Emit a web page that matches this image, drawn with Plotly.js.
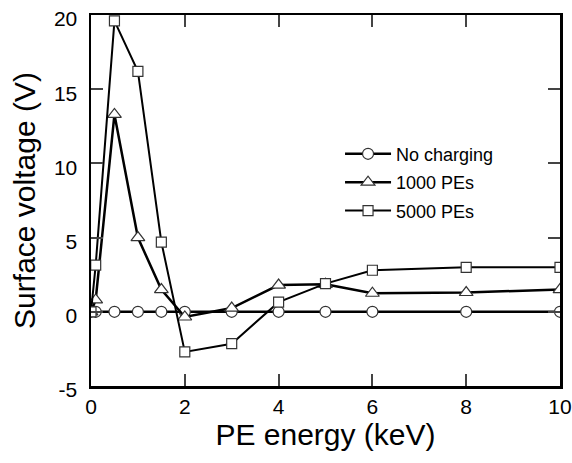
<!DOCTYPE html>
<html><head><meta charset="utf-8">
<script src="https://cdn.plot.ly/plotly-3.0.1.min.js"></script>
<style>html,body{margin:0;padding:0;background:#fff}</style>
</head><body><div id="chart" style="width:572px;height:463px"></div>
<script>
var energyNone = [0, 0.1, 0.5, 1, 1.5, 2, 3, 4, 5, 6, 8, 10];
var voltNone   = [0, 0, 0, 0, 0, 0, 0, 0, 0, 0, 0, 0];
var energy1000 = [0, 0.1, 0.5, 1, 1.5, 2, 3, 4, 5, 6, 8, 10];
var volt1000   = [0, 0.8, 13.3, 5.0, 1.5, -0.35, 0.25, 1.8, 1.85, 1.25, 1.3, 1.5];
var energy5000 = [0, 0.1, 0.5, 1, 1.5, 2, 3, 4, 5, 6, 8, 10];
var volt5000   = [0, 3.15, 19.6, 16.2, 4.7, -2.7, -2.15, 0.65, 1.9, 2.8, 3.0, 3.0];
var names = ["No charging", "1000 PEs", "5000 PEs"];
var xTicks = [0, 2, 4, 6, 8, 10];
var xTickText = ["0", "2", "4", "6", "8", "10"];
var yTicks = [-5, 0, 5, 10, 15, 20];
var yTickText = ["-5", "0", "5", "10", "15", "20"];

var ff = "'Liberation Sans', Arial, sans-serif";
var mline = {color: '#333', width: 1.2};
var traces = [
  {x: energyNone, y: voltNone, name: names[0], legendgroup: 'a', mode: 'lines+markers', line: {color: '#000', width: 2.5},
   marker: {symbol: 'circle', size: 11, color: '#fff', line: mline}},
  {x: energy1000, y: volt1000, name: names[1], legendgroup: 'b', mode: 'lines+markers', line: {color: '#000', width: 2.5},
   marker: {symbol: 'triangle-up', size: 12, color: '#fff', line: mline}},
  {x: energy5000, y: volt5000, name: names[2], legendgroup: 'c', mode: 'lines+markers', line: {color: '#000', width: 2},
   marker: {symbol: 'square', size: 10, color: '#fff', line: mline}}
];

var layout = {
  width: 572, height: 463,
  margin: {l: 91, r: 12, t: 15, b: 77},
  paper_bgcolor: '#fff', plot_bgcolor: '#fff',
  showlegend: true,
  legend: {x: 0.531, y: 0.675, xanchor: 'left', yanchor: 'top', bgcolor: 'rgba(0,0,0,0)', itemwidth: 46,
           font: {family: ff, size: 18, color: '#000'}, tracegroupgap: 2},
  xaxis: {range: [0, 10], tickvals: xTicks, ticktext: xTickText, ticks: 'inside', ticklen: 12, tickwidth: 2,
          showline: true, linewidth: 2.5, linecolor: '#000', mirror: 'ticks', showgrid: false, zeroline: false,
          tickfont: {family: ff, size: 21, color: '#000'},
          title: {text: 'PE energy (keV)', font: {family: ff, size: 30, color: '#000'}, standoff: 5}},
  yaxis: {range: [-5, 20], tickvals: yTicks, ticktext: yTickText, ticks: 'inside', ticklen: 12, tickwidth: 2,
          showline: true, linewidth: 2.5, linecolor: '#000', mirror: 'ticks', showgrid: false, zeroline: false,
          ticklabelstandoff: 7, ticklabelshift: 4,
          tickfont: {family: ff, size: 21, color: '#000'},
          title: {text: 'Surface voltage (V)', font: {family: ff, size: 30, color: '#000'}, standoff: 10}}
};
Plotly.newPlot('chart', traces, layout, {displayModeBar: false, staticPlot: true});
</script></body></html>
